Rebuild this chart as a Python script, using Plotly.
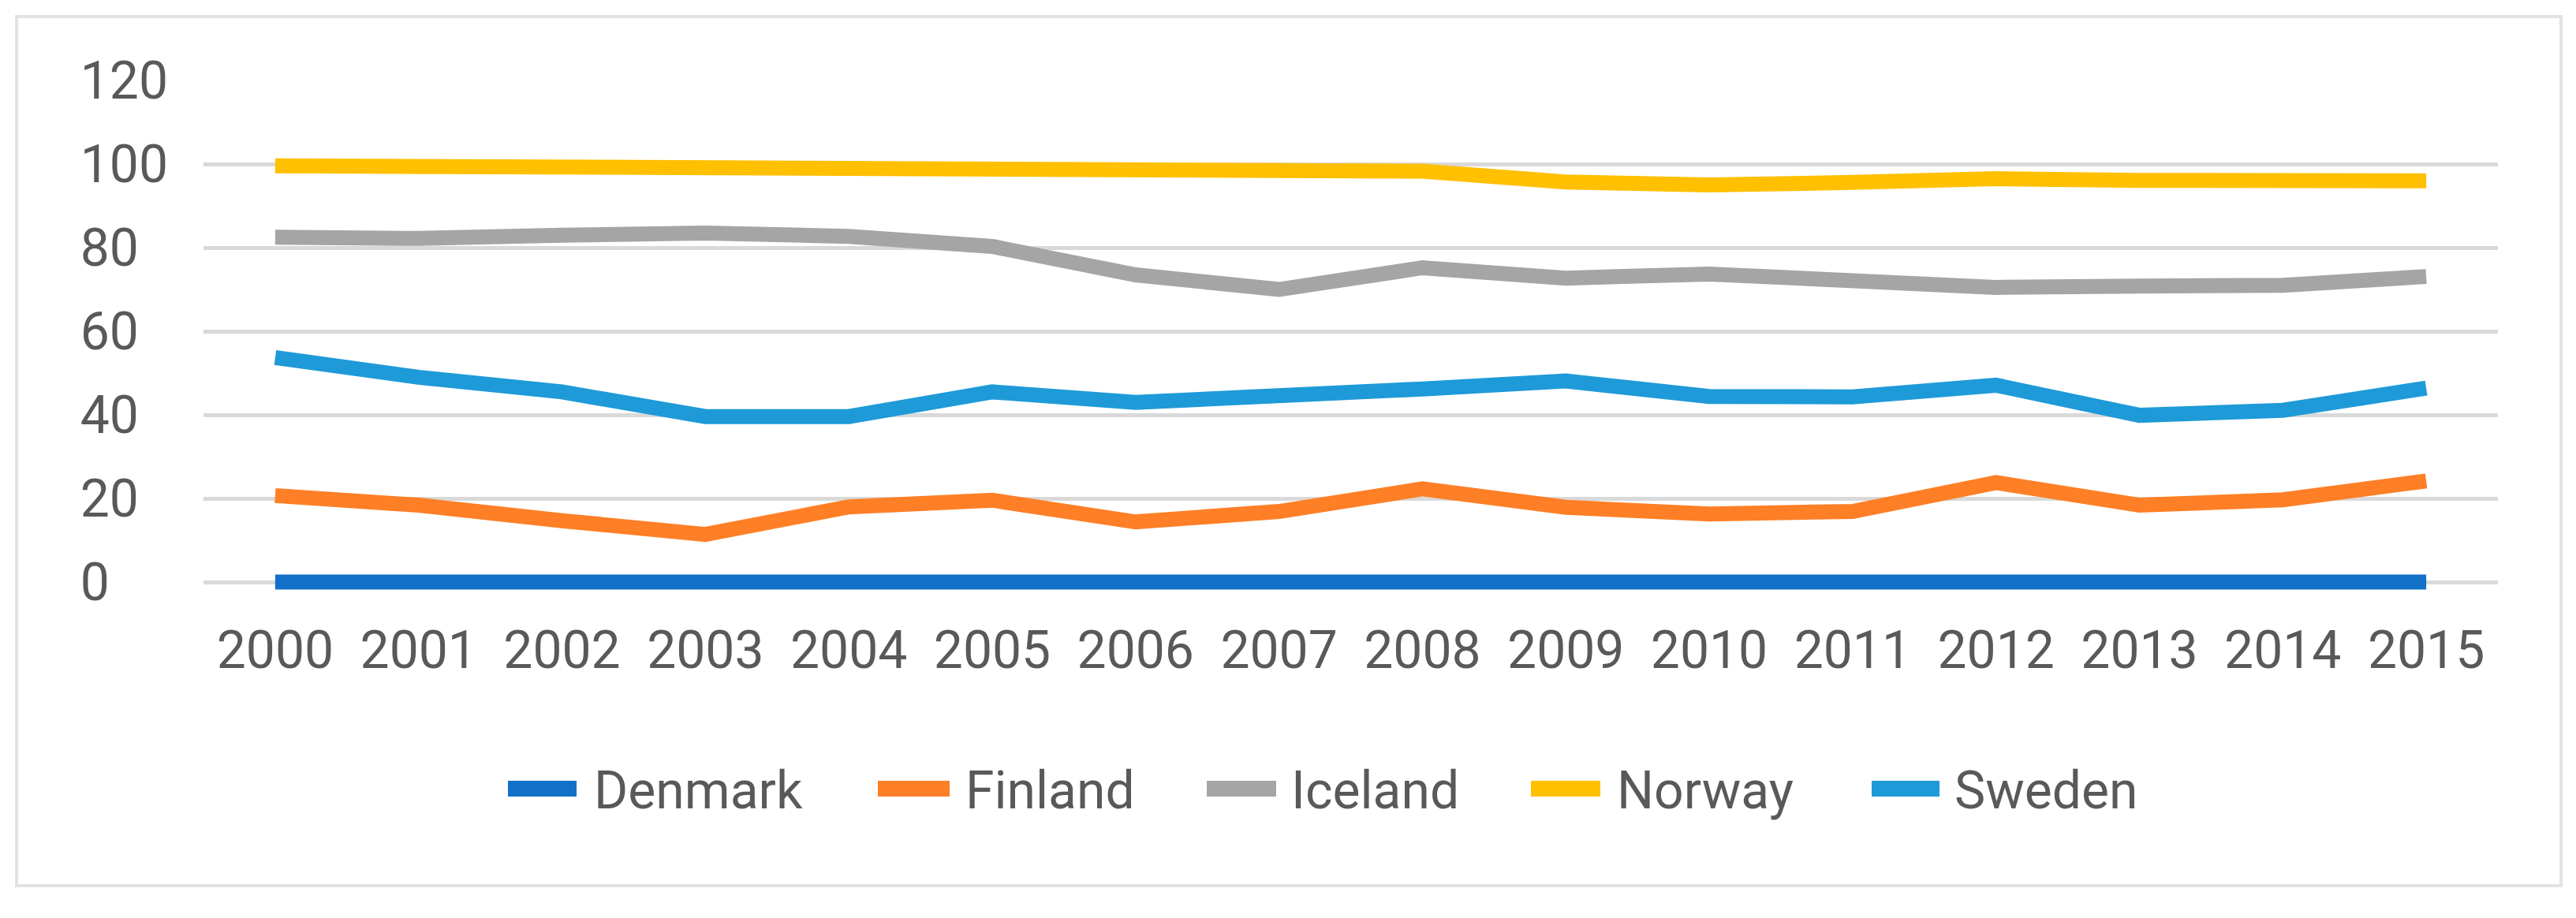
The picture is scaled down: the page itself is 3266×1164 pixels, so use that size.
import plotly.graph_objects as go

# ---------------- data ----------------
years = ["2000", "2001", "2002", "2003", "2004", "2005", "2006", "2007",
         "2008", "2009", "2010", "2011", "2012", "2013", "2014", "2015"]

denmark = [0, 0, 0, 0, 0, 0, 0, 0, 0, 0, 0, 0, 0, 0, 0, 0]
finland = [20.7, 18.4, 14.7, 11.4, 18.0, 19.6, 14.4, 16.9,
           22.3, 17.9, 16.3, 16.9, 23.8, 18.4, 19.7, 24.2]
iceland = [82.5, 82.2, 83.0, 83.5, 82.7, 80.3, 73.5, 70.0,
           75.2, 72.7, 73.7, 72.0, 70.5, 70.8, 71.0, 73.1]
norway = [99.6, 99.4, 99.3, 99.0, 99.0, 98.9, 98.7, 98.3,
          98.3, 95.7, 95.0, 95.6, 96.5, 96.1, 96.0, 96.0]
sweden = [53.7, 49.0, 45.5, 39.6, 39.6, 45.5, 43.0, 44.3,
          46.2, 48.1, 44.4, 44.3, 47.1, 39.9, 41.1, 46.4]

series_names = ["Denmark", "Finland", "Iceland", "Norway", "Sweden"]
series_values = [denmark, finland, iceland, norway, sweden]
y_ticks = [0, 20, 40, 60, 80, 100, 120]

# ---------------- styles ----------------
colors = ["#1170c8", "#fe7f26", "#a5a5a5", "#ffc000", "#1e9ad8"]
TEXT = "#595959"
GRID = "#d9d9d9"
FONT = "Roboto"
FS = 66
LW = 19

W, H = 3266, 1164
PLOT_L, PLOT_R, PLOT_T, PLOT_B = 258, 3167, 102, 754


def px_x(px):
    return (px - PLOT_L) / (PLOT_R - PLOT_L)


def px_y(py):
    return (PLOT_B - py) / (PLOT_B - PLOT_T)


fig = go.Figure()
for name, vals, col in zip(series_names, series_values, colors):
    fig.add_trace(go.Scatter(
        x=years, y=vals, name=name, mode="lines",
        line=dict(color=col, width=LW), showlegend=False,
        hoverinfo="x+y+name",
    ))

# custom legend (long swatches like the original)
legend_swatch_x = [(644, 731), (1113, 1204), (1530, 1618), (1941, 2029), (2373, 2459)]
legend_text_x = [751, 1222, 1635, 2048, 2476]
LEG_Y = 1000
shapes = []
annotations = []
for (sx0, sx1), tx, name, col in zip(legend_swatch_x, legend_text_x, series_names, colors):
    shapes.append(dict(type="line", xref="paper", yref="paper",
                       x0=px_x(sx0), x1=px_x(sx1), y0=px_y(LEG_Y), y1=px_y(LEG_Y),
                       line=dict(color=col, width=20)))
    annotations.append(dict(xref="paper", yref="paper", x=px_x(tx), y=px_y(LEG_Y + 3),
                            xanchor="left", yanchor="middle", showarrow=False,
                            text=name, font=dict(family=FONT, size=FS, color=TEXT)))

# outer chart border
shapes.append(dict(type="rect", xref="paper", yref="paper", layer="below",
                   x0=px_x(21), x1=px_x(3247), y0=px_y(1123), y1=px_y(21),
                   line=dict(color="#e3e3e3", width=4), fillcolor="rgba(0,0,0,0)"))

# left-aligned y tick labels (padded with figure spaces, which are digit-wide)
y_ticktext = [str(v) + "\u2007" * (3 - len(str(v))) for v in y_ticks]

fig.update_layout(
    width=W, height=H,
    margin=dict(l=PLOT_L, r=W - PLOT_R, t=PLOT_T, b=H - PLOT_B),
    paper_bgcolor="white", plot_bgcolor="white",
    font=dict(family=FONT, size=FS, color=TEXT),
    shapes=shapes, annotations=annotations,
    showlegend=False,
    xaxis=dict(type="category", range=[-0.5, 15.5], showgrid=False, zeroline=False,
               showline=False, ticks="", tickfont=dict(family=FONT, size=FS, color=TEXT),
               ticklabelstandoff=26),
    yaxis=dict(range=[-3, 120], tickvals=y_ticks, ticktext=y_ticktext,
               showgrid=True, gridcolor=GRID, gridwidth=5, zeroline=False,
               showline=False, ticks="", tickfont=dict(family=FONT, size=FS, color=TEXT),
               ticklabelstandoff=44),
)

fig.write_html("out.html", config={"displayModeBar": False},
               post_script="document.body.style.margin='0';document.body.style.overflow='hidden';")
